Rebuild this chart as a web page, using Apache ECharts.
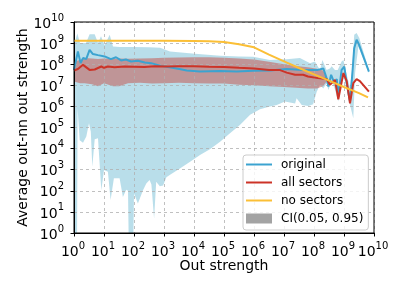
<!DOCTYPE html>
<html><head><meta charset="utf-8">
<script src="https://cdn.jsdelivr.net/npm/echarts@6/dist/echarts.min.js"></script>
<style>html,body{margin:0;padding:0;background:#fff}#c{width:407px;height:291px}</style>
</head><body><div id="c"></div>
<script>
// All positions along both axes are stored as log10 exponents (the chart is log-log).
const tickExponents = [0,1,2,3,4,5,6,7,8,9,10];

// "original" mean line
const originalX = [0,0.13,0.22,0.3,0.41,0.52,0.63,0.8,1.02,1.23,1.4,1.57,1.73,1.9,2.13,2.36,2.57,2.9,3.23,3.47,3.76,4.2,4.87,5.42,5.98,6.53,7.09,7.64,7.97,8.13,8.31,8.42,8.48,8.57,8.68,8.76,8.81,8.92,9.01,9.09,9.2,9.28,9.34,9.42,9.48,9.83];
const originalY = [7.73,8.6,8.05,8.29,8.25,8.68,8.48,8.43,8.37,8.24,8.33,8.18,8.22,8.13,8.16,8.08,8.05,7.92,7.84,7.78,7.70,7.65,7.68,7.65,7.69,7.70,7.77,7.73,7.72,7.73,7.8,7.34,6.94,7.5,7.1,7.3,6.44,7.73,7.89,7.1,6.23,7.58,8.76,9.16,9.0,7.65];

// "original" CI band: upper and lower edges
const originalHiX = [0,0.11,0.2,0.4,0.52,0.69,0.8,0.9,1.02,1.19,1.3,1.53,2.0,2.5,2.87,3.2,4.03,4.87,5.5,5.97,6.53,7.09,7.53,7.87,8.03,8.2,8.28,8.42,8.53,8.59,8.7,8.79,8.92,8.98,9.09,9.2,9.28,9.34,9.42,9.51,9.83];
const originalHiY = [8.9,9.45,9.0,9.0,9.42,9.42,9.0,9.32,8.9,9.4,8.84,8.82,8.82,8.8,8.78,8.6,8.5,8.4,8.37,8.35,8.2,8.24,8.29,8.05,8.13,7.73,8.2,7.73,7.8,7.9,7.73,7.73,8.13,8.2,7.5,6.9,7.89,9.4,9.48,9.24,7.73];
const originalLoX = [0,0.1,0.12,0.19,0.3,0.41,0.5,0.56,0.61,0.69,0.8,0.91,1.0,1.13,1.22,1.33,1.52,1.63,1.74,1.8,1.83,1.97,2.0,2.13,2.3,2.41,2.52,2.58,2.67,2.74,2.86,2.97,3.08,3.19,3.36,3.53,3.87,4.2,4.53,4.87,5.2,5.53,5.87,6.2,6.53,6.76,7.03,7.37,7.42,7.59,7.81,7.97,8.09,8.2,8.31,8.42,8.48,8.59,8.7,8.81,8.92,9.03,9.2,9.31,9.37,9.48,9.83];
const originalLoY = [-1,-1,5.9,4.4,4.28,4.57,5.2,4.8,3.14,4.44,4.49,2.03,2.98,2.9,1.56,2.59,2.59,1.71,2.05,2.0,-1,-1,1.87,1.40,2.03,2.35,2.51,2.3,0.69,2.43,2.22,2.25,2.64,2.75,2.9,3.06,3.38,3.7,3.97,4.33,4.73,5.12,5.6,5.87,6.0,6.07,6.23,6.14,6.39,6.07,6.02,6.1,6.7,7.02,6.85,7.1,6.78,7.2,6.8,6.23,7.5,7.2,6.07,5.44,7.58,8.84,7.58];

// "all sectors" mean line
const allSectorsX = [0,0.13,0.3,0.41,0.52,0.69,0.91,1.0,1.13,1.35,1.69,2.0,2.35,2.69,3.13,3.47,4.0,4.5,5.0,5.5,6.0,6.5,6.87,7.09,7.37,7.64,7.8,8.13,8.42,8.53,8.7,8.81,8.98,9.09,9.2,9.31,9.42,9.53,9.83];
const allSectorsY = [7.70,7.77,7.97,7.85,7.73,7.75,7.89,7.83,7.89,7.86,7.89,7.88,7.87,7.9,7.89,7.9,7.9,7.88,7.87,7.83,7.8,7.73,7.72,7.6,7.5,7.5,7.42,7.34,7.3,7.02,7.25,6.34,7.58,7.2,6.15,7.1,7.29,7.2,6.7];

// "all sectors" CI band
const allSectorsBandX = [0,0.2,0.35,0.6,0.8,1.0,1.3,1.5,1.8,2.2,2.6,3.0,3.5,4.0,4.5,5.0,5.5,6.0,6.5,7.0,7.4,7.8,8.1,8.3,8.4];
const allSectorsHi = [8.13,8.2,8.29,8.27,8.25,8.27,8.25,8.27,8.26,8.27,8.28,8.3,8.32,8.33,8.33,8.3,8.27,8.22,8.12,8.0,7.92,7.85,7.78,7.7,7.45];
const allSectorsLo = [7.18,7.1,7.1,7.05,6.95,7.1,6.95,6.95,7.1,7.12,7.08,7.1,7.12,7.1,7.08,7.08,7.03,7.0,6.95,6.92,6.88,6.85,6.85,6.95,7.15];

// "no sectors" line
const noSectorsX = [0,1,2,3,4,4.5,5,5.5,6,6.5,7,7.5,8,8.5,9,9.5,9.8];
const noSectorsY = [9.11,9.11,9.11,9.11,9.1,9.09,9.05,8.95,8.8,8.45,8.13,7.82,7.52,7.22,6.92,6.63,6.43];

const FONT = 'DejaVu Sans';
const zip = (a, b) => a.map((v, i) => [v, b[i]]);

function band(name, hiX, hiY, loX, loY, fill, z) {
  return {
    type: 'custom', name: name, z: z, clip: true, silent: true,
    coordinateSystem: 'cartesian2d',
    data: zip(hiX, hiY),
    encode: { x: 0, y: 1 },
    renderItem: function (params, api) {
      if (params.dataIndex !== 0) return null;
      const pts = [];
      for (let i = 0; i < hiX.length; i++) pts.push(api.coord([hiX[i], hiY[i]]));
      for (let i = loX.length - 1; i >= 0; i--) pts.push(api.coord([loX[i], loY[i]]));
      const cs = params.coordSys;
      return {
        type: 'group',
        clipPath: { type: 'rect', shape: { x: cs.x, y: cs.y, width: cs.width, height: cs.height } },
        children: [{ type: 'polygon', shape: { points: pts }, style: { fill: fill, stroke: null } }]
      };
    }
  };
}

function lineSeries(name, xs, ys, color, z) {
  return {
    type: 'line', name: name, z: z, data: zip(xs, ys),
    symbol: 'none', showSymbol: false, animation: false,
    lineStyle: { color: color, width: 2 }, itemStyle: { color: color }
  };
}

const labelRichX = {
  b: { fontSize: 14, fontFamily: FONT, color: '#000', lineHeight: 18, verticalAlign: 'bottom' },
  s: { fontSize: 10, fontFamily: FONT, color: '#000', lineHeight: 10, verticalAlign: 'top', padding: [0, 2, 0, 0] }
};
const labelRichY = {
  b: { fontSize: 14, fontFamily: FONT, color: '#000', lineHeight: 18, verticalAlign: 'bottom' },
  s: { fontSize: 10, fontFamily: FONT, color: '#000', lineHeight: 10, verticalAlign: 'top' }
};
const fmt = v => tickExponents.indexOf(v) >= 0 ? '{b|10}{s|' + v + '}' : '';

const splitStyle = { show: true, lineStyle: { color: '#b0b0b0', type: [3, 3], width: 0.8 } };
const lineIcon = 'path://M0,0H26V2H0Z';

const chart = echarts.init(document.getElementById('c'), null, { renderer: 'canvas' });
chart.setOption({
  animation: false,
  backgroundColor: '#fff',
  grid: { left: 74, right: 33, top: 22, bottom: 58, show: true, borderColor: '#000', borderWidth: 1, backgroundColor: 'transparent', z: 6 },
  xAxis: {
    type: 'value', min: 0, max: 10, interval: 1, z: 1,
    axisLine: { show: true, onZero: false, lineStyle: { color: '#000', width: 1 } },
    axisTick: { show: true, length: 3.5, lineStyle: { color: '#000' } },
    axisLabel: { margin: 8, formatter: fmt, rich: labelRichX, showMinLabel: true, showMaxLabel: true, hideOverlap: false },
    splitLine: splitStyle,
    name: 'Out strength', nameLocation: 'middle', nameGap: 26, nameMoveOverlap: false,
    nameTextStyle: { fontSize: 14, fontFamily: FONT, color: '#000' }
  },
  yAxis: {
    type: 'value', min: 0, max: 10, interval: 1, z: 1,
    axisLine: { show: true, onZero: false, lineStyle: { color: '#000', width: 1 } },
    axisTick: { show: true, length: 3.5, lineStyle: { color: '#000' } },
    axisLabel: { margin: 10, formatter: fmt, rich: labelRichY, showMinLabel: true, showMaxLabel: true, hideOverlap: false },
    splitLine: splitStyle,
    name: 'Average out-nn out strength', nameLocation: 'middle', nameGap: 44, nameRotate: 90, nameMoveOverlap: false,
    nameTextStyle: { fontSize: 14, fontFamily: FONT, color: '#000' }
  },
  legend: {
    orient: 'vertical', left: 243, top: 155,
    padding: [2, 5, 4, 3], itemGap: 3, itemWidth: 26, itemHeight: 10, symbolKeepAspect: true,
    backgroundColor: 'rgba(255,255,255,0.8)', borderColor: '#cccccc', borderWidth: 1, borderRadius: 3,
    textStyle: { fontFamily: FONT, fontSize: 12, color: '#000', padding: [0, 0, 0, 4], lineHeight: 15 },
    data: [
      { name: 'original', icon: lineIcon, itemStyle: { color: '#3ba3d0' } },
      { name: 'all sectors', icon: lineIcon, itemStyle: { color: '#cc3327' } },
      { name: 'no sectors', icon: lineIcon, itemStyle: { color: '#fbbf36' } },
      { name: 'CI(0.05, 0.95)', icon: 'rect', itemStyle: { color: '#a3a3a3' } }
    ],
    z: 10
  },
  series: [
    band('CI(0.05, 0.95)', originalHiX, originalHiY, originalLoX, originalLoY, 'rgba(173,216,230,0.85)', 0),
    band('CI(0.05, 0.95)', allSectorsBandX, allSectorsHi, allSectorsBandX, allSectorsLo, 'rgba(200,60,50,0.45)', 0),
    lineSeries('original', originalX, originalY, '#3ba3d0', 3),
    lineSeries('all sectors', allSectorsX, allSectorsY, '#cc3327', 4),
    lineSeries('no sectors', noSectorsX, noSectorsY, '#fbbf36', 5)
  ]
});
</script></body></html>
